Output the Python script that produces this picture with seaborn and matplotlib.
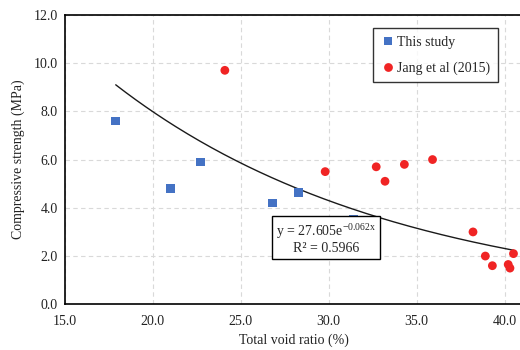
### Workspace Setup ###
import numpy as np
import pandas as pd
import matplotlib
matplotlib.use('Agg')
import matplotlib.pyplot as plt
import seaborn as sns

# Data
study_void = [17.9, 21.0, 22.7, 26.8, 28.3, 31.4]
study_strength = [7.6, 4.8, 5.9, 4.2, 4.65, 3.5]

jang_void = [24.1, 29.8, 32.7, 33.2, 34.3, 35.9, 38.2, 38.9, 39.3, 40.2, 40.3, 40.5]
jang_strength = [9.7, 5.5, 5.7, 5.1, 5.8, 6.0, 3.0, 2.0, 1.6, 1.65, 1.5, 2.1]

labels = ['This study', 'Jang et al (2015)']
colors = ['#4472C4', '#F02424']

# Exponential trendline shown on the chart
fit_a = 27.605
fit_b = -0.062
fit_r2 = 0.5966

df = pd.concat([
    pd.DataFrame({'void': study_void, 'strength': study_strength, 'source': labels[0]}),
    pd.DataFrame({'void': jang_void, 'strength': jang_strength, 'source': labels[1]}),
])

sns.set_style('white')
plt.rcParams['font.family'] = ['Liberation Serif', 'DejaVu Serif']
plt.rcParams['mathtext.fontset'] = 'custom'
plt.rcParams['mathtext.rm'] = 'Liberation Serif'
plt.rcParams['mathtext.it'] = 'Liberation Serif:italic'

fig = plt.figure(figsize=(5.2, 3.5), dpi=100)
ax = fig.add_axes([0.1244, 0.1306, 0.88, 0.827])

sns.scatterplot(data=df, x='void', y='strength', hue='source', style='source',
                palette=dict(zip(labels, colors)),
                markers={labels[0]: 's', labels[1]: 'o'},
                s=40, linewidth=0, ax=ax, zorder=3)

# Trendline over the range of all points
xs = np.linspace(df['void'].min(), df['void'].max(), 200)
ax.plot(xs, fit_a * np.exp(fit_b * xs), color='#1a1a1a', lw=1.0, zorder=2)

ax.text(29.85, 2.74,
        'y = %.3fe$^{\\mathrm{%.3fx}}$\nR² = %.4f' % (fit_a, fit_b, fit_r2),
        ha='center', va='center', fontsize=10, zorder=5, linespacing=1.1,
        bbox=dict(boxstyle='square,pad=0.3', facecolor='white', edgecolor='black', lw=1))

ax.set_xlim(15, 41)
ax.set_ylim(0, 12)
ax.set_xticks(np.arange(15, 41, 5))
ax.set_yticks(np.arange(0, 12.1, 2))
ax.set_xticklabels(['%.1f' % v for v in np.arange(15, 41, 5)])
ax.set_yticklabels(['%.1f' % v for v in np.arange(0, 12.1, 2)])
ax.grid(True, color='#D9D9D9', linestyle='--', lw=0.8, dashes=(4, 3))
ax.tick_params(direction='in', length=4, color='#555555', labelsize=10,
               labelcolor='#222222', pad=5)
ax.tick_params(axis='x', pad=8)
for side in ['left', 'bottom', 'top', 'right']:
    ax.spines[side].set_color('black')
    ax.spines[side].set_linewidth(1.2)

ax.set_xlabel('Total void ratio (%)', fontsize=10, color='#222222', labelpad=4)
ax.set_ylabel('Compressive strength (MPa)', fontsize=10, color='#222222', labelpad=6)

handles, _ = ax.get_legend_handles_labels()
leg = ax.legend(handles, labels, loc='upper left',
                bbox_to_anchor=(373 / 520, 1 - 28 / 350), bbox_transform=fig.transFigure,
                borderaxespad=0, frameon=True, fancybox=False, edgecolor='black',
                fontsize=10, handlelength=1.0, handletextpad=0.2, labelspacing=0.9,
                borderpad=0.55, markerscale=1.0)
leg.get_frame().set_linewidth(1.0)
leg.set_zorder(6)

fig.savefig('out.png', dpi=100)
